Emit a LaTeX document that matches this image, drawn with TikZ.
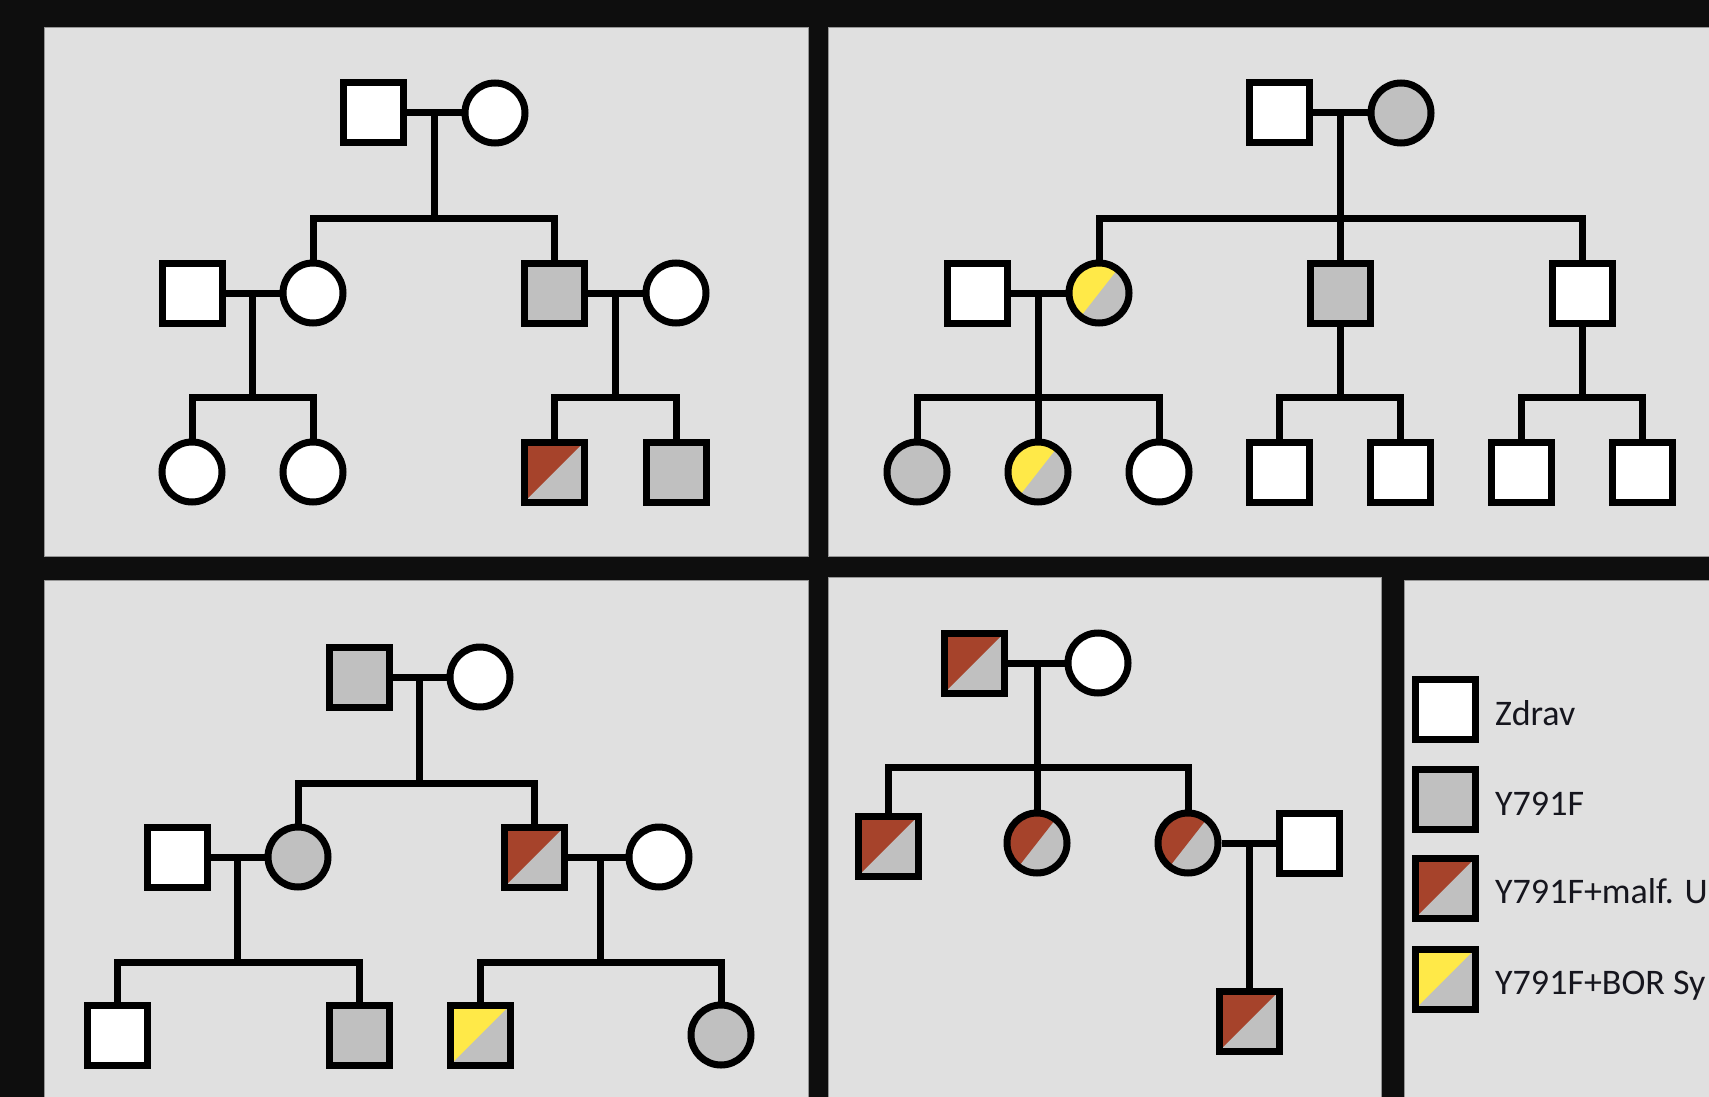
\documentclass[tikz,border=0pt]{standalone}
\usepackage{fontspec}
\setmainfont{Carlito}
\definecolor{blk}{RGB}{14,14,14}
\definecolor{pnl}{RGB}{224,224,224}
\definecolor{gry}{RGB}{192,192,192}
\definecolor{rd}{RGB}{166,67,43}
\definecolor{yl}{RGB}{255,233,72}
\definecolor{edge}{RGB}{150,150,150}
\definecolor{txt}{RGB}{22,22,30}
\tikzset{
 sym/.style={draw=black, line width=7pt, minimum size=60pt, inner sep=0pt},
 male/.style={sym, rectangle, fill=white},
 female/.style={sym, circle, fill=white},
 carrier/.style={fill=gry},
 sqhalf/.style={fill=gry, path picture={\fill[#1] (path picture bounding box.north west) -- (path picture bounding box.north east) -- (path picture bounding box.south west) -- cycle;}},
 cihalf/.style={fill=gry, path picture={\fill[#1, shift={(path picture bounding box.center)}] (52:45pt) -- (232:45pt) -- (142:90pt) -- cycle;}},
 conn/.style={draw=black, line width=7pt},
 legtext/.style={anchor=base west, font=\fontsize{36}{43}\selectfont, text=txt, inner sep=0pt},
 panel/.style={fill=pnl, draw=edge, line width=1pt},
}
\begin{document}
\begin{tikzpicture}[x=1pt, y=-1pt]
\clip (0,0) rectangle (1709,1097);
\fill[blk] (0,0) rectangle (1709,1097);
% panels
\path[panel] (44,27.5) rectangle (808.5,556);
\path[panel] (828.5,28) rectangle (1720,556);
\path[panel] (44,580) rectangle (808.5,1110);
\path[panel] (828.5,577) rectangle (1381.5,1110);
\path[panel] (1404,580) rectangle (1720,1110);

% ---------- Panel 1 ----------
\node[male] (a1) at (373,113) {};
\node[female] (a2) at (495,113) {};
\node[male] (a3) at (192,293) {};
\node[female] (a4) at (313,293) {};
\node[male, carrier] (a5) at (554,293) {};
\node[female] (a6) at (676,293) {};
\node[female] (a7) at (192,472) {};
\node[female] (a8) at (313,472) {};
\node[male, sqhalf=rd] (a9) at (554,472) {};
\node[male, carrier] (a10) at (676,472) {};
\coordinate (a12) at (434,113);
\coordinate (s1) at (434,218);
\coordinate (a34) at (252.5,293);
\coordinate (s2) at (252.5,397);
\coordinate (a56) at (615,293);
\coordinate (s3) at (615,397);
\draw[conn] (a1) -- (a2);
\draw[conn] (a12) -- (s1);
\draw[conn] (a4.north) |- (s1) -| (a5.north);
\draw[conn] (a3) -- (a4);
\draw[conn] (a34) -- (s2);
\draw[conn] (a7.north) |- (s2) -| (a8.north);
\draw[conn] (a5) -- (a6);
\draw[conn] (a56) -- (s3);
\draw[conn] (a9.north) |- (s3) -| (a10.north);

% ---------- Panel 2 ----------
\node[male] (b1) at (1279,113) {};
\node[female, carrier] (b2) at (1401,113) {};
\node[male] (b3) at (977,293) {};
\node[female, cihalf=yl] (b4) at (1099,293) {};
\node[male, carrier] (b5) at (1340,293) {};
\node[male] (b6) at (1582,293) {};
\node[female, carrier] (b7) at (917,472) {};
\node[female, cihalf=yl] (b8) at (1038,472) {};
\node[female] (b9) at (1159,472) {};
\node[male] (b10) at (1279,472) {};
\node[male] (b11) at (1400,472) {};
\node[male] (b12) at (1521,472) {};
\node[male] (b13) at (1642,472) {};
\coordinate (b12m) at (1340,113);
\coordinate (t1) at (1340,218);
\coordinate (b34) at (1038,293);
\coordinate (t2) at (1038,397);
\coordinate (t3) at (1340,397);
\coordinate (t4) at (1582,397);
\draw[conn] (b1) -- (b2);
\draw[conn] (b12m) -- (b5.north);
\draw[conn] (b4.north) |- (t1) -| (b6.north);
\draw[conn] (b3) -- (b4);
\draw[conn] (b34) -- (b8.north);
\draw[conn] (b7.north) |- (t2) -| (b9.north);
\draw[conn] (b5.south) -- (t3);
\draw[conn] (b10.north) |- (t3) -| (b11.north);
\draw[conn] (b6.south) -- (t4);
\draw[conn] (b12.north) |- (t4) -| (b13.north);

% ---------- Panel 3 ----------
\node[male, carrier] (c1) at (359,677) {};
\node[female] (c2) at (480,677) {};
\node[male] (c3) at (177,857) {};
\node[female, carrier] (c4) at (298,857) {};
\node[male, sqhalf=rd] (c5) at (534,857) {};
\node[female] (c6) at (659,857) {};
\node[male] (c7) at (117,1035) {};
\node[male, carrier] (c8) at (359,1035) {};
\node[male, sqhalf=yl] (c9) at (480,1035) {};
\node[female, carrier] (c10) at (721,1035) {};
\coordinate (c12) at (419.5,677);
\coordinate (u1) at (419.5,783);
\coordinate (c34) at (237.5,857);
\coordinate (u2) at (237.5,962);
\coordinate (c56) at (600,857);
\coordinate (u3) at (600,962);
\draw[conn] (c1) -- (c2);
\draw[conn] (c12) -- (u1);
\draw[conn] (c4.north) |- (u1) -| (c5.north);
\draw[conn] (c3) -- (c4);
\draw[conn] (c34) -- (u2);
\draw[conn] (c7.north) |- (u2) -| (c8.north);
\draw[conn] (c5) -- (c6);
\draw[conn] (c56) -- (u3);
\draw[conn] (c9.north) |- (u3) -| (c10.north);

% ---------- Panel 4 ----------
\node[male, sqhalf=rd] (d1) at (974,663) {};
\node[female] (d2) at (1098,663) {};
\node[male, sqhalf=rd] (d3) at (888,846) {};
\node[female, cihalf=rd] (d4) at (1037,843) {};
\node[female, cihalf=rd] (d5) at (1188,843) {};
\node[male] (d6) at (1309,843) {};
\node[male, sqhalf=rd] (d7) at (1249,1021) {};
\coordinate (d12) at (1037,663);
\coordinate (v1) at (1037,767);
\coordinate (d56) at (1249,843);
\draw[conn] (d1) -- (d2);
\draw[conn] (d12) -- (d4.north);
\draw[conn] (d3.north) |- (v1) -| (d5.north);
\draw[conn] (d5) -- (d6);
\draw[conn] (d56) -- (d7.north);

% ---------- Legend ----------
\node[male] (l1) at (1445,709) {};
\node[male, carrier] (l2) at (1445,799) {};
\node[male, sqhalf=rd] (l3) at (1445,888) {};
\node[male, sqhalf=yl] (l4) at (1445,979) {};
\node[legtext] (lt1) at (1495,725) {Zdrav};
\node[legtext] (lt2) at (1495,815) {Y791F};
\node[legtext] (lt3) at (1495,903) {Y791F+malf. U};
\node[legtext] (lt4) at (1495,994) {Y791F+BOR Sy};
\end{tikzpicture}
\end{document}
